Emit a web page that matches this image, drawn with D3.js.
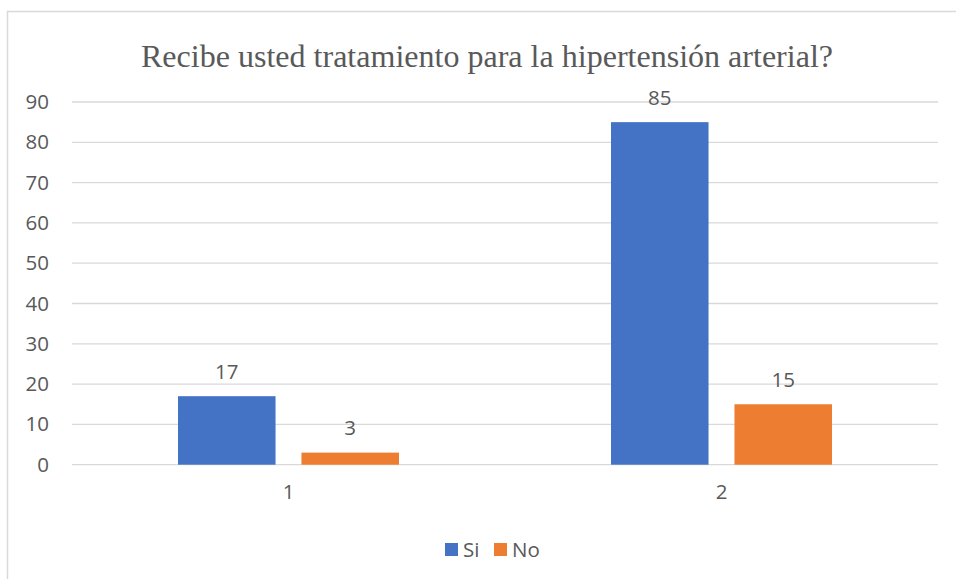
<!DOCTYPE html>
<html>
<head>
<meta charset="utf-8">
<script src="https://cdn.jsdelivr.net/npm/d3@7"></script>
<style>
  body { margin: 0; background: #fff; }
  text { fill: #595959; }
</style>
</head>
<body>
<div id="chart"></div>
<script>
var categories = ['1', '2'];
var seriesNames = ['Si', 'No'];
var siValues = [17, 85];
var noValues = [3, 15];
var yTicks = [0, 10, 20, 30, 40, 50, 60, 70, 80, 90];
var colors = ['#4472C4', '#ED7D31'];

let width = 956, height = 579;
let plot = { left: 72, right: 938, top: 102, bottom: 464.7 };
let fs = 20.5;

let svg = d3.select('#chart').append('svg')
  .attr('width', width)
  .attr('height', height);

// outer chart border
svg.append('rect')
  .attr('x', 7.5).attr('y', 11.5)
  .attr('width', 1000).attr('height', 700)
  .attr('fill', 'none')
  .attr('stroke', '#d9d9d9')
  .attr('stroke-width', 1.5);

svg.append('text')
  .attr('x', 487).attr('y', 67)
  .attr('text-anchor', 'middle')
  .attr('font-family', 'Liberation Serif')
  .attr('font-size', 32)
  .attr('textLength', 692)
  .attr('lengthAdjust', 'spacingAndGlyphs')
  .text('Recibe usted tratamiento para la hipertensión arterial?');

let y = d3.scaleLinear().domain([0, 90]).range([plot.bottom, plot.top]);
let x0 = d3.scaleBand().domain(categories).range([plot.left, plot.right]);
let groupW = 221;
let x1 = d3.scaleBand().domain(seriesNames).range([0, groupW]).paddingInner(0.21);

// gridlines
svg.append('g').selectAll('line')
  .data(yTicks)
  .enter().append('line')
  .attr('x1', plot.left).attr('x2', plot.right)
  .attr('y1', d => y(d)).attr('y2', d => y(d))
  .attr('stroke', '#d9d9d9')
  .attr('stroke-width', 1.3);

// y axis labels
let yAxis = d3.axisLeft(y).tickValues(yTicks).tickSize(0).tickPadding(0);
let yg = svg.append('g')
  .attr('transform', 'translate(49,0)')
  .call(yAxis);
yg.select('.domain').remove();
yg.selectAll('text')
  .attr('font-family', 'Open Sans')
  .attr('font-size', fs)
  .attr('fill', '#595959');

// x axis labels
let xAxis = d3.axisBottom(x0).tickSize(0).tickPadding(0);
let xg = svg.append('g')
  .attr('transform', 'translate(0,484)')
  .call(xAxis);
xg.select('.domain').remove();
xg.selectAll('text')
  .attr('font-family', 'Open Sans')
  .attr('font-size', fs)
  .attr('fill', '#595959');

let rows = categories.map((c, i) => ({ cat: c, values: [siValues[i], noValues[i]] }));

let groups = svg.append('g').selectAll('g')
  .data(rows)
  .enter().append('g')
  .attr('transform', d => 'translate(' + (x0(d.cat) + (x0.bandwidth() - groupW) / 2) + ',0)');

groups.selectAll('rect')
  .data(d => d.values.map((v, j) => ({ name: seriesNames[j], value: v, color: colors[j] })))
  .enter().append('rect')
  .attr('x', d => x1(d.name))
  .attr('y', d => y(d.value))
  .attr('width', x1.bandwidth())
  .attr('height', d => y(0) - y(d.value))
  .attr('fill', d => d.color);

groups.selectAll('text.lbl')
  .data(d => d.values.map((v, j) => ({ name: seriesNames[j], value: v })))
  .enter().append('text')
  .attr('class', 'lbl')
  .attr('x', d => x1(d.name) + x1.bandwidth() / 2)
  .attr('y', d => y(d.value) - 17.5)
  .attr('text-anchor', 'middle')
  .attr('font-family', 'Open Sans')
  .attr('font-size', fs)
  .text(d => d.value);

// legend
let legend = svg.append('g').selectAll('g')
  .data(seriesNames)
  .enter().append('g')
  .attr('transform', (d, i) => 'translate(' + [445, 494][i] + ',543)');
legend.append('rect')
  .attr('width', 13).attr('height', 13)
  .attr('fill', (d, i) => colors[i]);
legend.append('text')
  .attr('x', 18).attr('y', 14)
  .attr('font-family', 'Open Sans')
  .attr('font-size', fs)
  .text(d => d);
</script>
</body>
</html>
